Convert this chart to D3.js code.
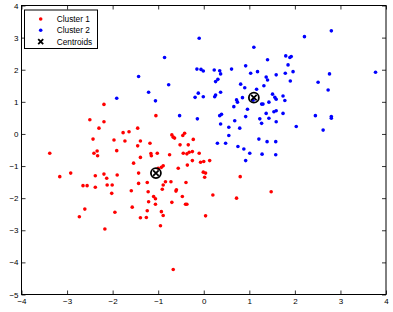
<!DOCTYPE html>
<html>
<head>
<meta charset="utf-8">
<script src="https://cdn.jsdelivr.net/npm/d3@7"></script>
<style>
  body { margin: 0; background: #fff; }
  svg { display: block; font-family: "Liberation Sans", Arial, sans-serif; }
</style>
</head>
<body>
<svg></svg>
<script>
// cluster points, [x, y]
const cluster1 = [
  [-1.05,0.57],[-1.64,0.07],[-1.77,0.04],[-1.45,0.18],[-1.97,-0.19],[-1.73,-0.22],[-1.39,-0.22],
  [-1.18,-0.29],[-1.45,-0.37],[-0.70,-0.03],[-0.67,-0.10],[-0.64,-0.13],[-0.42,0.02],[-0.46,-0.05],
  [-0.23,-0.17],[-0.52,-0.34],[-0.34,-0.34],[-2.19,0.92],[-2.50,0.44],[-2.19,0.38],[-2.30,0.18],
  [-2.43,-0.16],[-1.91,-0.52],[-2.41,-0.60],[-2.34,-0.53],[-2.33,-0.68],[-1.39,-0.73],[-1.16,-0.61],
  [-1.15,-0.68],[-1.02,-0.60],[-0.75,-0.65],[-0.45,-0.60],[-0.37,-0.62],[-0.32,-0.57],[-0.25,-0.55],
  [-0.10,-0.60],[-3.38,-0.60],[-3.16,-1.33],[-2.92,-1.22],[-2.38,-1.30],[-2.19,-1.25],[-2.13,-1.38],
  [-1.90,-1.28],[-1.54,-0.91],[-1.43,-1.22],[-0.89,-0.99],[-0.93,-1.04],[-1.00,-1.07],[-0.36,-0.97],
  [-0.56,-1.07],[-0.25,-0.83],[-2.65,-1.61],[-2.56,-1.61],[-2.38,-1.66],[-2.12,-1.59],[-2.01,-1.59],
  [-2.02,-1.85],[-1.43,-1.54],[-1.24,-1.51],[-0.84,-1.49],[-0.89,-1.59],[-0.72,-1.49],[-0.39,-1.51],
  [-1.59,-1.77],[-1.22,-1.80],[-0.91,-1.72],[-0.60,-1.74],[-0.61,-1.78],[-1.10,-1.95],[-1.06,-2.02],
  [-0.47,-1.95],[-1.21,-2.11],[-0.70,-2.13],[-1.06,-2.19],[-0.40,-2.19],[-0.37,-2.19],[-2.61,-2.34],
  [-1.57,-2.28],[-1.24,-2.39],[-0.93,-2.42],[-1.95,-2.44],[-0.89,-2.54],[-2.73,-2.58],[-1.39,-2.61],
  [-1.26,-2.60],[-0.95,-2.86],[-2.17,-2.96],[-0.67,-4.22],[-0.07,-0.88],[0.00,-0.86],[0.13,-0.83],
  [-0.01,-1.19],[0.04,-1.22],[0.02,-1.35],[0.04,-2.55],[0.20,-1.90],[0.72,-2.00],[0.80,-1.33],
  [1.48,-1.80]
];

const cluster2 = [
  [-0.10,2.98],[-0.86,2.38],[-0.15,2.02],[-0.06,2.01],[-0.01,1.96],[-1.43,1.79],[-0.77,1.53],
  [-1.21,1.30],[-0.12,1.27],[-0.19,1.14],[-1.91,1.11],[-1.06,1.03],[-0.53,0.57],[-0.14,0.47],
  [2.21,3.03],[2.80,3.21],[1.10,2.70],[1.80,2.43],[1.89,2.38],[1.92,2.41],[0.92,2.12],[1.40,2.31],
  [1.85,2.15],[0.23,1.99],[0.35,1.97],[0.37,1.87],[0.61,2.02],[1.03,1.89],[1.18,1.94],[1.96,1.94],
  [1.79,1.89],[2.76,1.87],[3.77,1.92],[0.26,1.63],[0.31,1.70],[1.37,1.77],[1.40,1.68],[1.59,1.84],
  [1.90,1.65],[2.51,1.61],[0.81,1.55],[0.90,1.44],[1.32,1.50],[1.16,1.39],[2.73,1.37],[-0.01,1.16],
  [0.24,1.16],[0.26,1.21],[0.37,1.30],[1.51,1.24],[1.56,1.14],[1.59,1.08],[1.74,1.18],[1.78,1.04],
  [0.85,1.13],[0.72,1.06],[0.74,0.99],[1.43,0.99],[0.66,0.85],[0.96,0.77],[1.27,0.93],[1.30,0.93],
  [1.37,0.64],[1.54,0.69],[1.59,0.72],[1.74,0.64],[0.35,0.57],[0.39,0.61],[0.92,0.54],[1.23,0.47],
  [1.43,0.49],[1.27,0.33],[1.59,0.38],[2.45,0.57],[2.80,0.54],[2.80,0.49],[0.37,0.31],[0.68,0.41],
  [0.55,0.21],[0.79,0.18],[2.03,0.23],[2.62,0.12],[0.55,-0.05],[0.30,-0.29],[0.48,-0.29],[1.21,-0.16],
  [1.39,-0.24],[1.58,-0.24],[0.75,-0.39],[0.88,-0.47],[1.01,-0.60],[0.92,-0.83],[1.28,-0.63],
  [1.58,-0.65],[1.08,1.05]
];

const centroids = [[-1.05,-1.22],[1.10,1.13]];

const xTicks = [-4,-3,-2,-1,0,1,2,3,4];
const yTicks = [-5,-4,-3,-2,-1,0,1,2,3,4];
const legendLabels = ['Cluster 1','Cluster 2','Centroids'];

const width = 393, height = 312;
const plot = {left: 21.5, right: 386, top: 5.5, bottom: 294.5};

const svg = d3.select('svg')
    .attr('width', width)
    .attr('height', height);

const x = d3.scaleLinear().domain([-4, 4]).range([plot.left, plot.right]);
const y = d3.scaleLinear().domain([-5, 4]).range([plot.bottom, plot.top]);

// axes with inward ticks on all four sides (box on)
const fmt = d3.format('d');
function styleAxis(g) {
  g.select('.domain').remove();
  g.selectAll('line').attr('stroke', '#000').attr('stroke-width', 0.8);
  g.selectAll('text').attr('fill', '#000').style('font-size', '8px');
}

svg.append('g')
    .attr('transform', 'translate(0,' + plot.bottom + ')')
    .call(d3.axisBottom(x).tickValues(xTicks).tickFormat(fmt).tickSizeInner(-4).tickSizeOuter(0).tickPadding(4))
    .call(styleAxis);

svg.append('g')
    .attr('transform', 'translate(0,' + plot.top + ')')
    .call(d3.axisTop(x).tickValues(xTicks).tickFormat('').tickSizeInner(-4).tickSizeOuter(0))
    .call(styleAxis);

svg.append('g')
    .attr('transform', 'translate(' + plot.left + ',0)')
    .call(d3.axisLeft(y).tickValues(yTicks).tickFormat(fmt).tickSizeInner(-4).tickSizeOuter(0).tickPadding(3))
    .call(styleAxis);

svg.append('g')
    .attr('transform', 'translate(' + plot.right + ',0)')
    .call(d3.axisRight(y).tickValues(yTicks).tickFormat('').tickSizeInner(-4).tickSizeOuter(0))
    .call(styleAxis);

svg.append('rect')
    .attr('x', plot.left)
    .attr('y', plot.top)
    .attr('width', plot.right - plot.left)
    .attr('height', plot.bottom - plot.top)
    .attr('fill', 'none')
    .attr('stroke', '#000')
    .attr('stroke-width', 1);

// points
svg.append('g').selectAll('circle')
    .data(cluster1)
    .enter().append('circle')
    .attr('cx', d => x(d[0]))
    .attr('cy', d => y(d[1]))
    .attr('r', 1.8)
    .attr('fill', '#ff0000');

svg.append('g').selectAll('circle')
    .data(cluster2)
    .enter().append('circle')
    .attr('cx', d => x(d[0]))
    .attr('cy', d => y(d[1]))
    .attr('r', 1.8)
    .attr('fill', '#0000ff');

// centroids: circle with a cross
const cent = svg.append('g').selectAll('g')
    .data(centroids)
    .enter().append('g')
    .attr('transform', d => 'translate(' + x(d[0]) + ',' + y(d[1]) + ')');

cent.append('circle')
    .attr('r', 5)
    .attr('fill', 'none')
    .attr('stroke', '#000')
    .attr('stroke-width', 1.8);

cent.append('path')
    .attr('d', 'M-2.8,-2.8L2.8,2.8M-2.8,2.8L2.8,-2.8')
    .attr('stroke', '#000')
    .attr('stroke-width', 1.8);

// legend
const legend = svg.append('g').attr('class', 'legend');

legend.append('rect')
    .attr('x', 24.5)
    .attr('y', 10)
    .attr('width', 73)
    .attr('height', 38.5)
    .attr('fill', '#fff')
    .attr('stroke', '#000')
    .attr('stroke-width', 1);

const rows = legend.selectAll('.row')
    .data(legendLabels)
    .enter().append('g')
    .attr('class', 'row')
    .attr('transform', (d, i) => 'translate(40.7,' + (19 + i * 11.3) + ')');

rows.filter((d, i) => i < 2).append('circle')
    .attr('r', 1.8)
    .attr('fill', (d, i) => i === 0 ? '#ff0000' : '#0000ff');

rows.filter((d, i) => i === 2).append('path')
    .attr('d', 'M-2.5,-2.5L2.5,2.5M-2.5,2.5L2.5,-2.5')
    .attr('stroke', '#000')
    .attr('stroke-width', 1.8);

rows.append('text')
    .attr('x', 16)
    .attr('dy', '0.35em')
    .style('font-size', '8.3px')
    .attr('fill', '#000')
    .text(d => d);
</script>
</body>
</html>
